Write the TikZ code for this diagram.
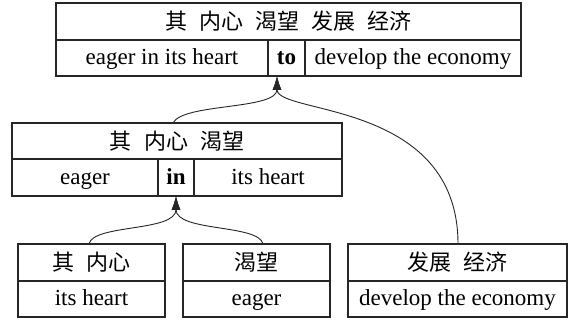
\documentclass[tikz,border=0pt]{standalone}
\usepackage{fontspec}
\setmainfont{Liberation Serif}
\newfontfamily\cjk{Noto Sans CJK SC}
\usetikzlibrary{arrows.meta}
\newcommand{\zsp}{\hspace{0.55em}}
\begin{document}
\begin{tikzpicture}[x=1pt,y=-1pt,
  line width=1.1pt,
  boxcell/.style={draw=black!85, line width=1.1pt, inner sep=0pt},
  entext/.style={font=\fontsize{23}{27}\selectfont, inner sep=0pt, anchor=base},
  zhtext/.style={font=\cjk\fontsize{22}{26}\selectfont, inner sep=0pt},
  link/.style={draw=black!85, line width=0.9pt},
  tip/.style={-{Latex[length=14pt,width=9pt]}}
]
\useasboundingbox (0,0) rectangle (574,320);

% top box
\node[boxcell, minimum width=465pt, minimum height=73pt] (topbox) at (288.5,39.5) {};
\draw[black!85] (56,40) -- (521,40);
\draw[black!85] (268,40) -- (268,76);
\draw[black!85] (305,40) -- (305,76);
\node[zhtext] (topzh) at (288.5,21) {其\zsp 内心\zsp 渴望\zsp 发展\zsp 经济};
\node[entext] (topa) at (162,65) {eager in its heart};
\node[entext] (topb) at (286.5,65) {\textbf{to}};
\node[entext] (topc) at (413,65) {develop the economy};

% middle box
\node[boxcell, minimum width=330pt, minimum height=73pt] (midbox) at (177,159.5) {};
\draw[black!85] (12,159) -- (342,159);
\draw[black!85] (158,159) -- (158,196);
\draw[black!85] (194,159) -- (194,196);
\node[zhtext] (midzh) at (177,141) {其\zsp 内心\zsp 渴望};
\node[entext] (mida) at (85,185) {eager};
\node[entext] (midb) at (176,185) {\textbf{in}};
\node[entext] (midc) at (268,185) {its heart};

% bottom boxes
\node[boxcell, minimum width=147pt, minimum height=73pt] (b1) at (91.5,280.5) {};
\draw[black!85] (18,281) -- (165,281);
\node[zhtext] (b1zh) at (91.5,262) {其\zsp 内心};
\node[entext] (b1en) at (91.5,306) {its heart};

\node[boxcell, minimum width=147pt, minimum height=73pt] (b2) at (256.5,280.5) {};
\draw[black!85] (183,281) -- (330,281);
\node[zhtext] (b2zh) at (256.5,262) {渴望};
\node[entext] (b2en) at (256.5,306) {eager};

\node[boxcell, minimum width=219pt, minimum height=73pt] (b3) at (457.5,280.5) {};
\draw[black!85] (348,281) -- (567,281);
\node[zhtext] (b3zh) at (457.5,262) {发展\zsp 经济};
\node[entext] (b3en) at (457.5,306) {develop the economy};

% connector points
\coordinate (totip) at (277,76);
\coordinate (intip) at (176,196);
\coordinate (midtop) at (173,123);
\coordinate (b1top) at (89,244);
\coordinate (b2top) at (263,244);
\coordinate (b3top) at (458,244);

\draw[link,tip] (midtop) .. controls (183,103) and (277,110) .. (totip);
\draw[link,tip] (b3top) .. controls (458,100) and (277,115) .. (totip);
\draw[link,tip] (b1top) .. controls (93,224) and (176,232) .. (intip);
\draw[link,tip] (b2top) .. controls (259,224) and (176,232) .. (intip);
\end{tikzpicture}
\end{document}
